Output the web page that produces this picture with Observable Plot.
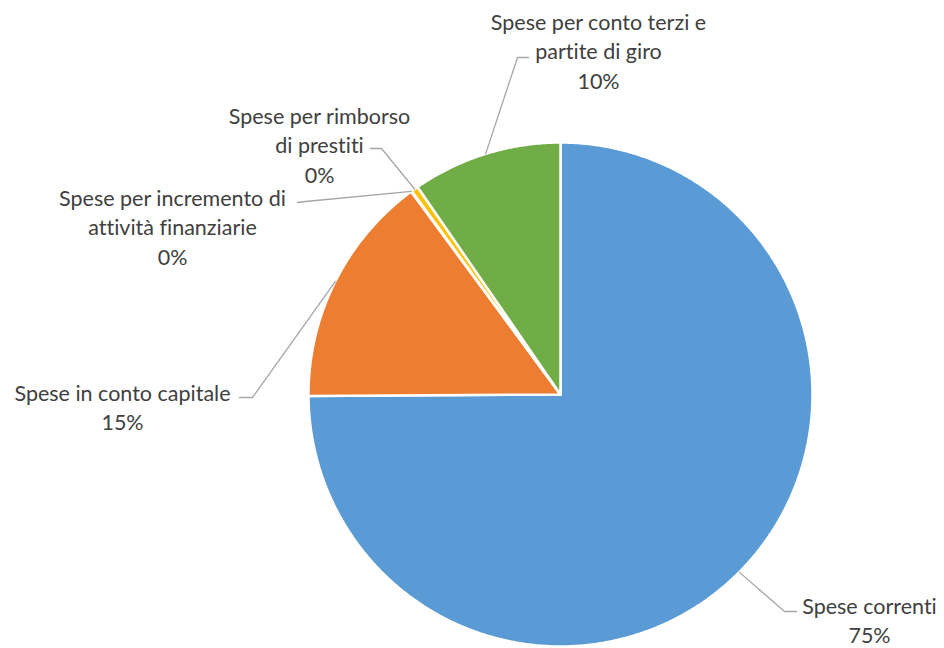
<!DOCTYPE html>
<html>
<head>
<meta charset="utf-8">
<script src="https://cdn.jsdelivr.net/npm/d3@7"></script>
<script src="https://cdn.jsdelivr.net/npm/@observablehq/plot@0.6"></script>
<style>
  html, body { margin: 0; padding: 0; background: #ffffff; }
  #chart svg { display: block; }
  #chart text { font-variant-ligatures: none; }
</style>
</head>
<body>
<div id="chart"></div>
<script>
// ---- data ----
const names = [
  "Spese correnti",
  "Spese in conto capitale",
  "Spese per incremento di attività finanziarie",
  "Spese per rimborso di prestiti",
  "Spese per conto terzi e partite di giro"
];
const values = [74.9, 15.0, 0.05, 0.45, 9.6];
const labelTexts = [
  "Spese correnti",
  "Spese in conto capitale",
  "Spese per incremento di\nattività finanziarie",
  "Spese per rimborso\ndi prestiti",
  "Spese per conto terzi e\npartite di giro"
];
const colors = ["#5B9BD5", "#ED7D31", "#A5A5A5", "#FFC000", "#70AD47"];

// ---- layout (pixel space of the 944x648 canvas) ----
const W = 944, H = 648;
const CX = 560, CY = 394, R = 252;
// label block centre, leader elbow, leader end
const labelLayout = [
  {tx: 869, ty: 618.5, ex: 784, ey: 611, hx: 796, hy: 611},
  {tx: 122, ty: 405.5, ex: 252, ey: 397, hx: 239, hy: 397},
  {tx: 172, ty: 225.5, ex: 305, ey: 201, hx: 297, hy: 202},
  {tx: 319, ty: 143.5, ex: 381, ey: 148, hx: 370, hy: 148},
  {tx: 598, ty: 49.5,  ex: 517, ey: 57,  hx: 528, hy: 57}
];

const total = d3.sum(values);
const pct = d3.format(".0%");
const arcs = d3.pie().sort(null).value(d => d)(values);

const px = a => CX + R * Math.sin(a);
const py = a => CY - R * Math.cos(a);

// slice polygons
const slicePts = [];
arcs.forEach((a, i) => {
  slicePts.push({name: names[i], x: CX, y: CY});
  const n = Math.max(2, Math.ceil((a.endAngle - a.startAngle) / (Math.PI / 360)));
  for (let k = 0; k <= n; k++) {
    const t = a.startAngle + (a.endAngle - a.startAngle) * k / n;
    slicePts.push({name: names[i], x: px(t), y: py(t)});
  }
});

// leader lines
const leaderPts = [];
arcs.forEach((a, i) => {
  const m = (a.startAngle + a.endAngle) / 2;
  const L = labelLayout[i];
  leaderPts.push({name: names[i], x: px(m), y: py(m)});
  leaderPts.push({name: names[i], x: L.ex, y: L.ey});
  leaderPts.push({name: names[i], x: L.hx, y: L.hy});
});

const labels = names.map((n, i) => ({
  name: n,
  x: labelLayout[i].tx,
  y: labelLayout[i].ty,
  text: labelTexts[i] + "\n" + pct(values[i] / total)
}));

const chart = Plot.plot({
  width: W,
  height: H,
  margin: 0,
  x: {domain: [0, W], range: [0, W], axis: null},
  y: {domain: [0, H], range: [0, H], axis: null},
  color: {domain: names, range: colors},
  style: {background: "#ffffff"},
  marks: [
    Plot.line(slicePts, {
      x: "x", y: "y", z: "name", fill: "name",
      stroke: "#ffffff", strokeWidth: 2.5, curve: "linear-closed"
    }),
    Plot.line(leaderPts, {
      x: "x", y: "y", z: "name",
      stroke: "#A6A6A6", strokeWidth: 1.3
    }),
    Plot.text(labels, {
      x: "x", y: "y", text: "text",
      fontSize: 21.5, fontFamily: "Lato", fill: "#404040",
      lineHeight: 1.37, textAnchor: "middle", lineAnchor: "middle"
    })
  ]
});
document.getElementById("chart").appendChild(chart);
</script>
</body>
</html>
